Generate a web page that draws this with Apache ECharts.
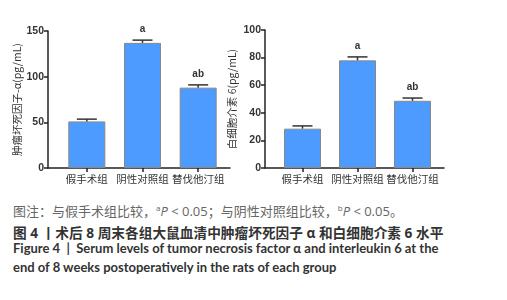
<!DOCTYPE html>
<html>
<head>
<meta charset="utf-8">
<script src="https://cdn.jsdelivr.net/npm/echarts@6/dist/echarts.min.js"></script>
<style>
  body { margin: 0; background: #fff; }
  #chart { width: 507px; height: 195px; }
  .cap { position: absolute; left: 13px; font-family: "Lato", "Noto Sans CJK SC", sans-serif; white-space: nowrap; }
  .note { top: 201px; color: #666; font-size: 13px; font-family: "Open Sans", "Noto Sans CJK SC", sans-serif; }
  .cn { top: 222px; color: #333; font-weight: bold; font-size: 13.7px; font-family: "Open Sans", "Noto Sans CJK SC", sans-serif; }
  .en1 { top: 240px; color: #333; font-weight: bold; font-size: 13px; }
  .en2 { top: 259px; color: #333; font-weight: bold; font-size: 13px; }
  sup { font-size: 8px; }
</style>
</head>
<body>
<div id="chart"></div>
<div class="cap note">图注：与假手术组比较，<sup>a</sup><i>P</i> &lt; 0.05；与阴性对照组比较，<sup>b</sup><i>P</i> &lt; 0.05。</div>
<div class="cap cn">图 4 丨术后 8 周末各组大鼠血清中肿瘤坏死因子 α 和白细胞介素 6 水平</div>
<div class="cap en1">Figure 4 &nbsp;| &nbsp;Serum levels of tumor necrosis factor α and interleukin 6 at the</div>
<div class="cap en2">end of 8 weeks postoperatively in the rats of each group</div>
<script>
// 数据
var groups = ['假手术组', '阴性对照组', '替伐他汀组'];
var tnfMean = [51, 137, 88];
var tnfErr = [2.5, 3, 3];
var il6Mean = [28.5, 78, 48.7];
var il6Err = [2, 2.5, 2];
var marks = ['', 'a', 'ab'];

var chart = echarts.init(document.getElementById('chart'));

var axisColor = '#222';
var barColor = '#4d9bff';

function errSeries(idx, mean, err) {
  var d = mean.map(function (v, i) { return [i, v, err[i], marks[i]]; });
  return {
    type: 'custom',
    xAxisIndex: idx, yAxisIndex: idx,
    data: d,
    z: 5,
    renderItem: function (params, api) {
      var x = api.value(0), v = api.value(1), e = api.value(2);
      var p0 = api.coord([x, v]);
      var p1 = api.coord([x, v + e]);
      var mk = d[params.dataIndex][3];
      return {
        type: 'group',
        children: [
          { type: 'line', shape: { x1: p0[0], y1: p0[1], x2: p1[0], y2: p1[1] }, style: { stroke: '#333', lineWidth: 1.5 } },
          { type: 'line', shape: { x1: p1[0] - 10, y1: p1[1], x2: p1[0] + 10, y2: p1[1] }, style: { stroke: '#333', lineWidth: 1.5 } },
          { type: 'text', style: { text: mk, x: p1[0], y: p1[1] - 6, textAlign: 'center', textVerticalAlign: 'bottom', fill: '#333', font: 'bold 10px Arial' } }
        ]
      };
    }
  };
}

function barSeries(idx, mean) {
  return {
    type: 'bar',
    xAxisIndex: idx, yAxisIndex: idx,
    data: mean,
    barWidth: 37,
    itemStyle: { color: barColor, borderColor: '#888', borderWidth: 1 }
  };
}

var yLabel = { color: '#333', fontSize: 10.5, fontWeight: 'bold', fontFamily: 'Arial', margin: 4 };
var xLabel = { color: '#333', fontSize: 10.5, margin: 6, interval: 0, fontFamily: 'Noto Sans CJK SC' };
var xTick = { show: true, alignWithLabel: true, length: 4, lineStyle: { color: axisColor, width: 1.5 } };
var lineOnly = { type: 'value', min: 0, max: 1, axisLine: { show: true, lineStyle: { color: axisColor, width: 1.5 } }, axisTick: { show: false }, axisLabel: { show: false }, splitLine: { show: false } };

chart.setOption({
  animation: false,
  grid: [
    { left: 48, width: 182, top: 31, height: 137 },
    { left: 59, width: 167, top: 31, height: 137 },
    { left: 265, width: 179, top: 30, height: 138 },
    { left: 275, width: 165, top: 30, height: 138 }
  ],
  xAxis: [
    Object.assign({ gridIndex: 0 }, lineOnly),
    { gridIndex: 1, type: 'category', data: groups, axisLine: { show: false }, axisTick: xTick, axisLabel: xLabel },
    Object.assign({ gridIndex: 2 }, lineOnly),
    { gridIndex: 3, type: 'category', data: groups, axisLine: { show: false }, axisTick: xTick, axisLabel: xLabel }
  ],
  yAxis: [
    { gridIndex: 0, type: 'value', min: 0, max: 150, interval: 50, name: '肿瘤坏死因子-α(pg/mL)', nameLocation: 'middle', nameGap: 22, nameTextStyle: { color: '#333', fontSize: 10.5, fontFamily: 'Noto Sans CJK SC' }, axisLine: { show: true, lineStyle: { color: axisColor, width: 1.5 } }, axisTick: { show: true, length: 4, lineStyle: { color: axisColor, width: 1.5 } }, axisLabel: yLabel, splitLine: { show: false } },
    { gridIndex: 1, type: 'value', min: 0, max: 150, show: false, splitLine: { show: false } },
    { gridIndex: 2, type: 'value', min: 0, max: 100, interval: 20, name: '白细胞介素 6(pg/mL)', nameLocation: 'middle', nameGap: 28, nameTextStyle: { color: '#333', fontSize: 10.5, fontFamily: 'Noto Sans CJK SC' }, axisLine: { show: true, lineStyle: { color: axisColor, width: 1.5 } }, axisTick: { show: true, length: 4, lineStyle: { color: axisColor, width: 1.5 } }, axisLabel: yLabel, splitLine: { show: false } },
    { gridIndex: 3, type: 'value', min: 0, max: 100, show: false, splitLine: { show: false } }
  ],
  series: [
    barSeries(1, tnfMean),
    errSeries(1, tnfMean, tnfErr),
    barSeries(3, il6Mean),
    errSeries(3, il6Mean, il6Err)
  ]
});
</script>
</body>
</html>
